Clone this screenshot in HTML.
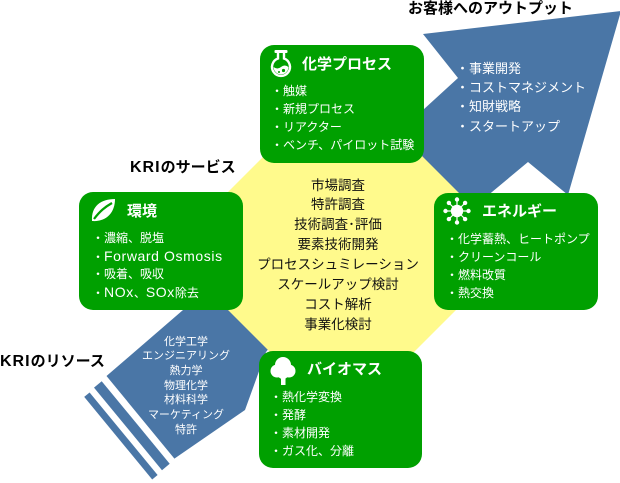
<!DOCTYPE html>
<html><head><meta charset="utf-8">
<style>
html,body{margin:0;padding:0;}
body{width:620px;height:483px;position:relative;overflow:hidden;background:#fff;font-family:"Liberation Sans","Noto Sans CJK JP",sans-serif;}
svg{position:absolute;left:0;top:0;}
.t{position:absolute;white-space:nowrap;}
.it{font-size:12px;line-height:16px;height:16px;color:#fff;}
.it .l{font-size:14px;letter-spacing:0.6px;}
.ti{font-size:15px;line-height:18px;height:18px;color:#fff;font-weight:bold;}
.lab{font-size:15px;line-height:18px;height:18px;color:#000;font-weight:bold;}
.lab .k{font-size:16px;letter-spacing:1px;}
.hx{font-size:13.5px;line-height:18px;height:18px;color:#111;left:238px;width:200px;text-align:center;}
.bl{font-size:11px;line-height:14px;height:14px;color:#fff;left:126px;width:120px;text-align:center;}
.ar{font-size:13px;line-height:16px;height:16px;color:#fff;left:456px;}
</style></head>
<body>
<svg width="620" height="483" viewBox="0 0 620 483">
  <!-- blue arrow -->
  <polygon fill="#4A76A6" points="106.5,376 183,310 220,280 300,200 410,122 423,110 458,78 423,34 621,11 568,195 528,162 492,192 470,210 300,310 266,352 245,410 174.4,458.6"/>
  <polygon fill="#4A76A6" points="101.7,381.2 94,387.6 162,470.2 169.7,463.8"/>
  <polygon fill="#4A76A6" points="89.6,392.5 84.2,396.9 152.2,479.5 157.6,475"/>
  <!-- yellow hexagon -->
  <polygon fill="#FFFA8C" points="169,251 290,130 396,130 516,250 396,370 288,370"/>
  <!-- green boxes -->
  <rect x="260" y="45" width="164" height="118" rx="14" fill="#00A000"/>
  <rect x="79" y="192" width="164" height="118" rx="14" fill="#00A000"/>
  <rect x="434" y="193" width="164" height="117" rx="14" fill="#00A000"/>
  <rect x="259" y="351" width="163" height="117" rx="14" fill="#00A000"/>
  <!-- flask icon -->
  <rect x="274.5" y="50" width="13" height="3" rx="1" fill="#fff"/>
  <path d="M278,53 v5.5 a9,9 0 1 0 6,0 v-5.5" fill="none" stroke="#fff" stroke-width="2.4"/>
  <path d="M273.6,67 a7.4,7.4 0 0 0 14.8,0 q-3.7,-3 -7.4,0 t-7.4,0 z" fill="#fff"/>
  <circle cx="283.5" cy="70.5" r="1.6" fill="#00A000"/>
  <circle cx="279" cy="72" r="1" fill="#00A000"/>
  <!-- leaf icon -->
  <path d="M92,221 C91,206 101,199 115,199 C115,213 106,222 92,221 z" fill="#fff"/>
  <path d="M94,219 C100,211 105,207 112,203" fill="none" stroke="#00A000" stroke-width="2.2"/>
  <!-- sun icon -->
  <g stroke="#fff" stroke-width="1.2">
    <line x1="457" y1="211" x2="457" y2="199.5"/>
    <line x1="457" y1="211" x2="457" y2="222.5"/>
    <line x1="457" y1="211" x2="445.5" y2="211"/>
    <line x1="457" y1="211" x2="468.5" y2="211"/>
    <line x1="457" y1="211" x2="448.9" y2="202.9"/>
    <line x1="457" y1="211" x2="465.1" y2="202.9"/>
    <line x1="457" y1="211" x2="448.9" y2="219.1"/>
    <line x1="457" y1="211" x2="465.1" y2="219.1"/>
  </g>
  <circle cx="457" cy="211" r="6.2" fill="#fff"/>
  <g fill="#fff">
    <circle cx="457" cy="199.5" r="2.2"/>
    <circle cx="457" cy="222.5" r="2.2"/>
    <circle cx="445.5" cy="211" r="2.2"/>
    <circle cx="468.5" cy="211" r="2.2"/>
    <circle cx="448.9" cy="202.9" r="2.2"/>
    <circle cx="465.1" cy="202.9" r="2.2"/>
    <circle cx="448.9" cy="219.1" r="2.2"/>
    <circle cx="465.1" cy="219.1" r="2.2"/>
  </g>
  <!-- tree icon -->
  <g fill="#fff">
    <circle cx="283" cy="365" r="8"/>
    <circle cx="277" cy="371" r="6.5"/>
    <circle cx="289" cy="371" r="6.5"/>
    <circle cx="283" cy="373" r="6"/>
    <rect x="281" y="378" width="4.5" height="7"/>
  </g>
</svg>

<!-- labels -->
<div class="t lab" style="left:408px;top:0px;">お客様へのアウトプット</div>
<div class="t lab" style="left:130px;top:159px;"><span class="k">KRI</span>のサービス</div>
<div class="t lab" style="left:0px;top:353px;"><span class="k">KRI</span>のリソース</div>

<!-- chem box -->
<div class="t ti" style="left:302px;top:56px;">化学プロセス</div>
<div class="t it" style="left:271px;top:82.5px;">・触媒</div>
<div class="t it" style="left:271px;top:100.7px;">・新規プロセス</div>
<div class="t it" style="left:271px;top:118.9px;">・リアクター</div>
<div class="t it" style="left:271px;top:137.1px;">・ベンチ、パイロット試験</div>

<!-- env box -->
<div class="t ti" style="left:127px;top:203px;">環境</div>
<div class="t it" style="left:92px;top:229.5px;">・濃縮、脱塩</div>
<div class="t it" style="left:92px;top:247.7px;">・<span class="l">Forward Osmosis</span></div>
<div class="t it" style="left:92px;top:265.9px;">・吸着、吸収</div>
<div class="t it" style="left:92px;top:284.1px;">・<span class="l">NOx</span>、<span class="l">SOx</span>除去</div>

<!-- energy box -->
<div class="t ti" style="left:482px;top:203px;">エネルギー</div>
<div class="t it" style="left:446px;top:230.5px;">・化学蓄熱、ヒートポンプ</div>
<div class="t it" style="left:446px;top:248.7px;">・クリーンコール</div>
<div class="t it" style="left:446px;top:266.9px;">・燃料改質</div>
<div class="t it" style="left:446px;top:285.1px;">・熱交換</div>

<!-- biomass box -->
<div class="t ti" style="left:307px;top:361px;">バイオマス</div>
<div class="t it" style="left:270px;top:388.5px;">・熱化学変換</div>
<div class="t it" style="left:270px;top:406.7px;">・発酵</div>
<div class="t it" style="left:270px;top:424.9px;">・素材開発</div>
<div class="t it" style="left:270px;top:443.1px;">・ガス化、分離</div>

<!-- hexagon text -->
<div class="t hx" style="top:176.5px;">市場調査</div>
<div class="t hx" style="top:196.4px;">特許調査</div>
<div class="t hx" style="top:216.3px;">技術調査･評価</div>
<div class="t hx" style="top:236.2px;">要素技術開発</div>
<div class="t hx" style="top:256.1px;">プロセスシュミレーション</div>
<div class="t hx" style="top:276px;">スケールアップ検討</div>
<div class="t hx" style="top:295.9px;">コスト解析</div>
<div class="t hx" style="top:315.8px;">事業化検討</div>

<!-- blue band text -->
<div class="t bl" style="top:334.5px;">化学工学</div>
<div class="t bl" style="top:349.2px;">エンジニアリング</div>
<div class="t bl" style="top:363.9px;">熱力学</div>
<div class="t bl" style="top:378.6px;">物理化学</div>
<div class="t bl" style="top:393.3px;">材料科学</div>
<div class="t bl" style="top:408px;">マーケティング</div>
<div class="t bl" style="top:422.7px;">特許</div>

<!-- arrow text -->
<div class="t ar" style="top:61px;">・事業開発</div>
<div class="t ar" style="top:80.2px;">・コストマネジメント</div>
<div class="t ar" style="top:99.4px;">・知財戦略</div>
<div class="t ar" style="top:118.6px;">・スタートアップ</div>
</body></html>
